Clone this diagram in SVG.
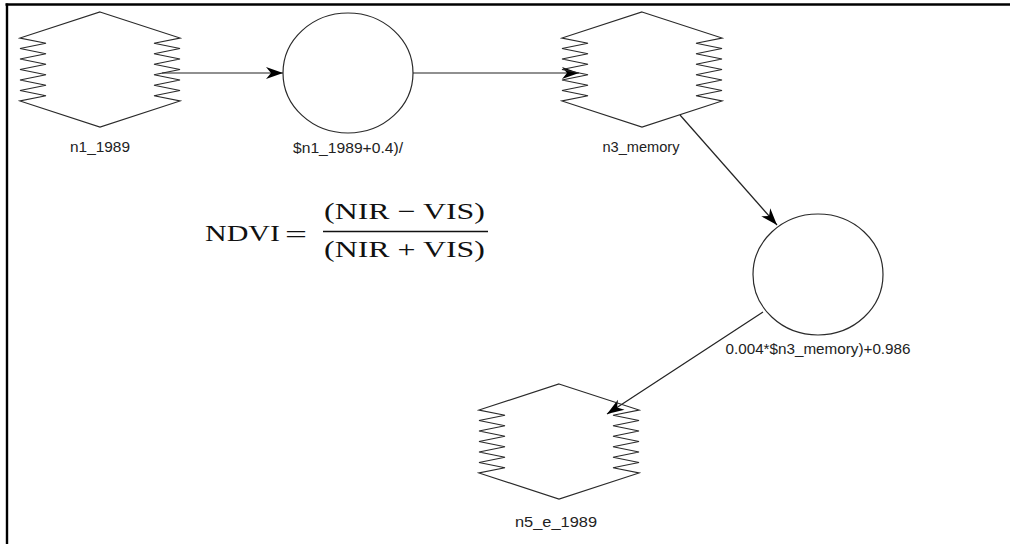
<svg xmlns="http://www.w3.org/2000/svg" width="1010" height="544" viewBox="0 0 1010 544">
<style>
.shape{fill:none;stroke:#2a2a2a;stroke-width:1.2}
.conn{stroke:#222;stroke-width:1.2;fill:none;marker-end:url(#arr)}
.lbl{font-family:"Liberation Sans",Arial,sans-serif;font-size:15px;fill:#222;text-anchor:middle}
.eq{font-family:"Liberation Serif","Times New Roman",serif;font-size:23px;fill:#111}
</style>
<defs>
<marker id="arr" markerUnits="userSpaceOnUse" markerWidth="20" markerHeight="14" refX="0" refY="0" viewBox="-18 -7 19 14" orient="auto" overflow="visible">
<path d="M0,0 L-17,-6 L-12,0 L-17,6 Z" fill="#000"/>
</marker>
<path id="zig" d="M0,-58 L80,-32 L54,-26.75 L80,-21.5 L54,-16.25 L80,-11 L54,-5.75 L80,-0.5 L54,4.75 L80,10 L54,15.25 L80,20.5 L54,25.75 L80,31 L0,57 L-80,31 L-54,25.75 L-80,20.5 L-54,15.25 L-80,10 L-54,4.75 L-80,-0.5 L-54,-5.75 L-80,-11 L-54,-16.25 L-80,-21.5 L-54,-26.75 L-80,-32 Z"/>
</defs>
<rect width="1010" height="544" fill="#fff"/>
<line x1="5.5" y1="4.5" x2="1010" y2="4.5" stroke="#000" stroke-width="2.6"/>
<line x1="7" y1="3.5" x2="7" y2="544" stroke="#000" stroke-width="2.4"/>
<g id="connectors">
<line class="conn" x1="162" y1="73" x2="283" y2="73"/>
<line class="conn" x1="413" y1="73" x2="579" y2="73"/>
<line class="conn" x1="680" y1="115" x2="777" y2="225"/>
<line class="conn" x1="763" y1="312" x2="607" y2="414"/>
</g>
<g id="n1_1989">
<use href="#zig" class="shape" transform="translate(100,70)"/>
<text class="lbl" x="100" y="152" textLength="60" lengthAdjust="spacingAndGlyphs">n1_1989</text>
</g>
<g id="n2">
<ellipse class="shape" cx="348" cy="73" rx="65" ry="60"/>
<text class="lbl" x="348" y="153" textLength="110" lengthAdjust="spacingAndGlyphs">$n1_1989+0.4)/</text>
</g>
<g id="n3_memory">
<use href="#zig" class="shape" transform="translate(642,70)"/>
<text class="lbl" x="641" y="152" textLength="77" lengthAdjust="spacingAndGlyphs">n3_memory</text>
</g>
<g id="n4">
<ellipse class="shape" cx="818" cy="274.5" rx="65" ry="60.5"/>
<text class="lbl" x="818" y="354" textLength="185" lengthAdjust="spacingAndGlyphs">0.004*$n3_memory)+0.986</text>
</g>
<g id="n5_e_1989">
<use href="#zig" class="shape" transform="translate(559,442)"/>
<text class="lbl" x="556" y="527" textLength="82" lengthAdjust="spacingAndGlyphs">n5_e_1989</text>
</g>
<g id="equation">
<text class="eq" x="205" y="241" textLength="75" lengthAdjust="spacingAndGlyphs">NDVI</text>
<text class="eq" x="285" y="242" textLength="22" lengthAdjust="spacingAndGlyphs">=</text>
<text class="eq" x="324" y="219" textLength="161" lengthAdjust="spacingAndGlyphs">(NIR − VIS)</text>
<line x1="323" y1="231.5" x2="488" y2="231.5" stroke="#111" stroke-width="1.6"/>
<text class="eq" x="324" y="257" textLength="161" lengthAdjust="spacingAndGlyphs">(NIR + VIS)</text>
</g>
</svg>
